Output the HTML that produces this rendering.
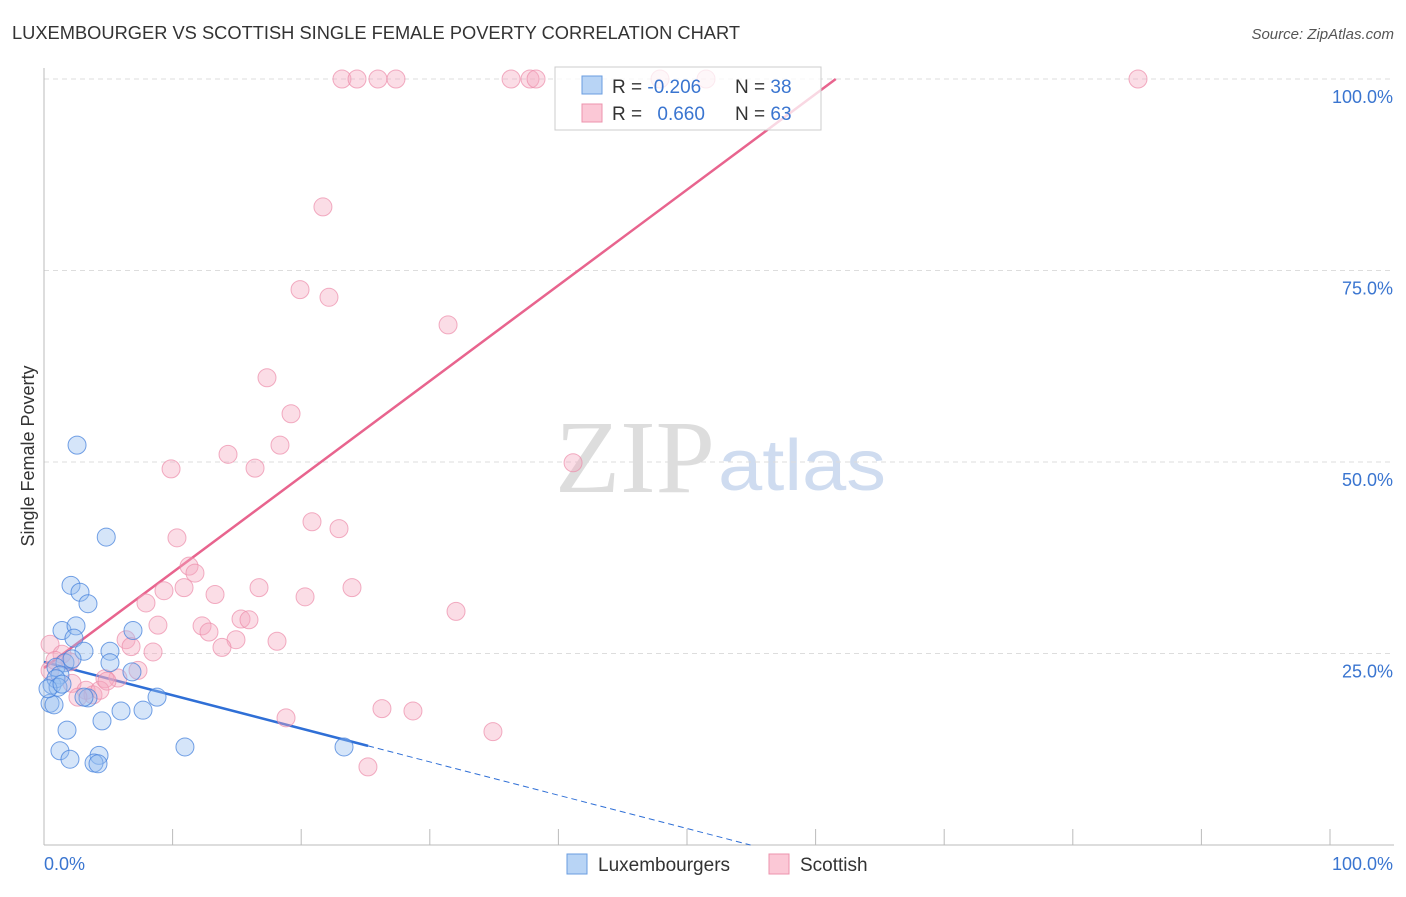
<!DOCTYPE html>
<html><head><meta charset="utf-8"><style>
body{margin:0;background:#fff;font-family:"Liberation Sans",sans-serif;}
svg text{font-family:"Liberation Sans",sans-serif;}
</style></head><body>
<svg id="chart" width="1406" height="892" viewBox="0 0 1406 892">
<text x="12" y="39" font-size="18" fill="#333" textLength="728" lengthAdjust="spacingAndGlyphs">LUXEMBOURGER VS SCOTTISH SINGLE FEMALE POVERTY CORRELATION CHART</text>
<text x="1394" y="39" font-size="15" fill="#555" font-style="italic" text-anchor="end">Source: ZipAtlas.com</text>
<text x="34" y="456" font-size="18" fill="#333" transform="rotate(-90 34 456)" text-anchor="middle">Single Female Poverty</text>
<g><text x="555" y="492" font-size="104" fill="#ddd" style="font-family:'Liberation Serif',serif" textLength="160" lengthAdjust="spacingAndGlyphs">ZIP</text><text x="718" y="490" font-size="72" fill="#cfdcf0" textLength="168" lengthAdjust="spacingAndGlyphs">atlas</text></g>
<g id="grid"></g><g id="axes"></g><g id="lines"></g><g id="pts"></g>
<g>
<rect x="555" y="67" width="266" height="63" fill="rgba(255,255,255,0.75)" stroke="#ccc"/>
<rect x="582" y="76" width="20" height="18" fill="#b8d4f5" stroke="#6a9de0"/>
<rect x="582" y="104" width="20" height="18" fill="#fbc8d6" stroke="#ec93ad"/>
<text x="612" y="93" font-size="19" fill="#333">R = <tspan fill="#3a75d0">-0.206</tspan></text>
<text x="735" y="93" font-size="19" fill="#333">N = <tspan fill="#3a75d0">38</tspan></text>
<text x="612" y="120" font-size="19" fill="#333">R = <tspan fill="#3a75d0" dx="10">0.660</tspan></text>
<text x="735" y="120" font-size="19" fill="#333">N = <tspan fill="#3a75d0">63</tspan></text>
</g>
<g>
<rect x="567" y="854" width="20" height="20" fill="#b8d4f5" stroke="#6a9de0"/>
<text x="598" y="871" font-size="19" fill="#333">Luxembourgers</text>
<rect x="769" y="854" width="20" height="20" fill="#fbc8d6" stroke="#ec93ad"/>
<text x="800" y="871" font-size="19" fill="#333">Scottish</text>
</g>
</svg>
<script>
const luxX=[2.57,4.84,2.1,2.8,3.42,1.4,2.49,2.33,3.11,5.13,6.92,5.13,6.84,1.63,2.18,0.93,1.24,0.62,0.93,1.09,0.47,0.78,3.42,3.11,8.79,5.99,7.7,4.51,1.79,1.24,2.02,4.28,3.89,4.2,10.96,23.33,0.31,1.4];
const luxY=[52.2,40.2,33.9,33.0,31.5,28.0,28.6,27.0,25.3,25.3,28.0,23.8,22.6,23.8,24.3,23.2,22.2,20.9,21.7,20.6,18.5,18.3,19.2,19.3,19.3,17.5,17.6,16.2,15.0,12.3,11.2,11.7,10.7,10.6,12.8,12.8,20.4,21.0];
const scoX=[23.17,24.34,25.97,27.37,36.32,37.79,38.26,47.9,51.48,85.07,21.69,19.91,22.16,31.42,17.34,19.21,18.35,14.31,16.41,9.88,41.14,20.84,22.94,10.34,11.28,11.74,9.33,10.89,16.72,23.95,13.3,20.3,7.93,32.04,8.86,15.32,15.94,12.29,12.83,6.38,14.93,18.12,13.84,6.77,8.48,0.47,1.4,2.02,5.75,7.31,4.74,2.18,3.27,3.81,4.35,2.64,4.9,18.82,26.28,28.69,34.91,25.19,0.47,0.86];
const scoY=[100,100,100,100,100,100,100,100,100,100,83.3,72.5,71.5,67.9,61.0,56.3,52.2,51.0,49.2,49.1,49.9,42.2,41.3,40.1,36.4,35.5,33.2,33.6,33.6,33.6,32.7,32.4,31.6,30.5,28.7,29.5,29.4,28.6,27.8,26.8,26.8,26.6,25.8,25.9,25.2,26.2,24.9,23.9,21.8,22.8,21.7,21.1,20.2,19.6,20.2,19.3,21.4,16.6,17.8,17.5,14.8,10.2,22.8,24.1];
const xTicks=[0,10,20,30,40,50,60,70,80,90,100];
const yTicks=[25,50,75,100];
const blueFit=[23.9,-0.435], pinkFit=[23.1,1.249];
const X=v=>44+v*12.86, Y=v=>845-v*7.66;
const NS="http://www.w3.org/2000/svg";
function mk(p,t,a){const e=document.createElementNS(NS,t);for(const k in a)e.setAttribute(k,a[k]);document.getElementById(p).appendChild(e);return e;}
yTicks.forEach(t=>{
 const l=mk('grid','line',{x1:44,x2:1394,y1:Y(t),y2:Y(t),stroke:'#ddd','stroke-dasharray':'5,4'});
 
 
 const tx=mk('axes','text',{x:1393,y:Y(t)+24,'font-size':18,fill:'#3a75d0','text-anchor':'end'});tx.textContent=t.toFixed(1)+'%';
 
 
});
mk('axes','line',{x1:44,x2:44,y1:68,y2:845,stroke:'#bbb'});
mk('axes','line',{x1:44,x2:1394,y1:845,y2:845,stroke:'#bbb'});
xTicks.forEach(t=>{const l=mk('axes','line',{x1:X(t),x2:X(t),y1:829,y2:845,stroke:'#bbb'});
 
 });
[[0,'0.0%','start',44],[100,'100.0%','end',1393]].forEach(a=>{const tx=mk('axes','text',{x:a[3],y:870,'font-size':18,fill:'#3a75d0','text-anchor':a[2]});tx.textContent=a[1];
 
 });
scoX.forEach((v,i)=>{const c=mk('pts','circle',{cx:X(v),cy:Y(scoY[i]),r:9,fill:'rgba(246,170,192,0.4)',stroke:'rgba(236,140,170,0.7)','stroke-width':1});
 
 });
luxX.forEach((v,i)=>{const c=mk('pts','circle',{cx:X(v),cy:Y(luxY[i]),r:9,fill:'rgba(150,190,240,0.4)',stroke:'rgba(70,130,220,0.75)','stroke-width':1});
 
 });
const bx2=25.2, bxe=(0-blueFit[0])/blueFit[1];
let l=mk('lines','line',{x1:X(0),y1:Y(blueFit[0]),x2:X(bx2),y2:Y(blueFit[0]+blueFit[1]*bx2),stroke:'#2f6fd6','stroke-width':2.5});


l=mk('lines','line',{x1:X(bx2),y1:Y(blueFit[0]+blueFit[1]*bx2),x2:X(bxe),y2:Y(0),stroke:'#2f6fd6','stroke-width':1,'stroke-dasharray':'6,4'});


const pxe=(100-pinkFit[0])/pinkFit[1];
l=mk('lines','line',{x1:X(0),y1:Y(pinkFit[0]),x2:X(pxe),y2:Y(100),stroke:'#e8648e','stroke-width':2.5});


</script>
</body></html>
